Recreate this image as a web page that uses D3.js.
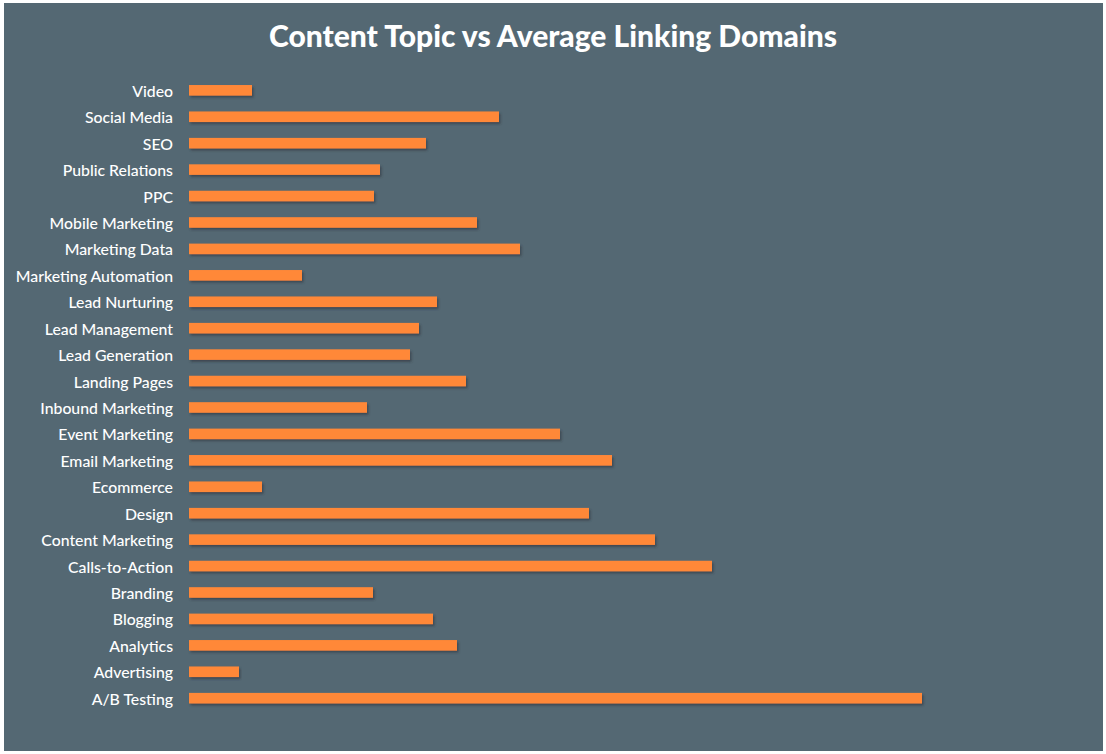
<!DOCTYPE html>
<html>
<head>
<meta charset="utf-8">
<script src="https://cdn.jsdelivr.net/npm/d3@7"></script>
<style>
  html, body { margin: 0; padding: 0; background: #ffffff; }
  svg { display: block; }
</style>
</head>
<body>
<script>
// Categories (top to bottom) and bar values (relative average linking domains)
const categories = [
  "Video", "Social Media", "SEO", "Public Relations", "PPC", "Mobile Marketing",
  "Marketing Data", "Marketing Automation", "Lead Nurturing", "Lead Management",
  "Lead Generation", "Landing Pages", "Inbound Marketing", "Event Marketing",
  "Email Marketing", "Ecommerce", "Design", "Content Marketing", "Calls-to-Action",
  "Branding", "Blogging", "Analytics", "Advertising", "A/B Testing"
];
const values = [
  63, 310, 237, 191, 185, 288,
  331, 113, 248, 230,
  221, 277, 178, 371,
  423, 73, 400, 466, 523,
  184, 244, 268, 50, 733
];
const titleText = "Content Topic vs Average Linking Domains";

const W = 1106, H = 754;
const svg = d3.select("body").append("svg").attr("width", W).attr("height", H);

const defs = svg.append("defs");
const f = defs.append("filter").attr("id", "shadow")
  .attr("x", "-5%").attr("y", "-50%").attr("width", "110%").attr("height", "220%");
f.append("feDropShadow").attr("dx", 1.5).attr("dy", 2).attr("stdDeviation", 1.3)
  .attr("flood-color", "#2a353c").attr("flood-opacity", 0.6);

svg.append("rect").attr("x", 4).attr("y", 3).attr("width", 1099).attr("height", 748)
  .attr("fill", "#546873");

svg.append("text")
  .attr("x", 553).attr("y", 47)
  .attr("text-anchor", "middle")
  .attr("fill", "#ffffff")
  .style("font-family", "Lato, 'Open Sans', sans-serif")
  .style("font-weight", 900)
  .style("font-size", "30px")
  .text(titleText);

const x = d3.scaleLinear().domain([0, d3.max(values)]).range([189, 922]);
const y = d3.scaleBand().domain(categories).range([77.1, 711.4]).paddingInner(0.6).paddingOuter(0.3);

const data = categories.map((c, i) => ({ c, v: values[i] }));

svg.append("g").selectAll("rect").data(data).join("rect")
  .attr("x", x(0))
  .attr("y", d => y(d.c))
  .attr("width", d => x(d.v) - x(0))
  .attr("height", y.bandwidth())
  .attr("fill", "#ff8838")
  .attr("filter", "url(#shadow)");

const yAxis = d3.axisLeft(y).tickSize(0).tickPadding(0);
const ag = svg.append("g").attr("transform", "translate(173,0)").call(yAxis);
ag.select(".domain").remove();
ag.selectAll("text")
  .attr("fill", "#ffffff")
  .attr("dy", "0.41em")
  .style("font-family", "Lato, 'Open Sans', sans-serif")
  .style("font-size", "15.8px")
  .style("font-weight", 500);
</script>
</body>
</html>
